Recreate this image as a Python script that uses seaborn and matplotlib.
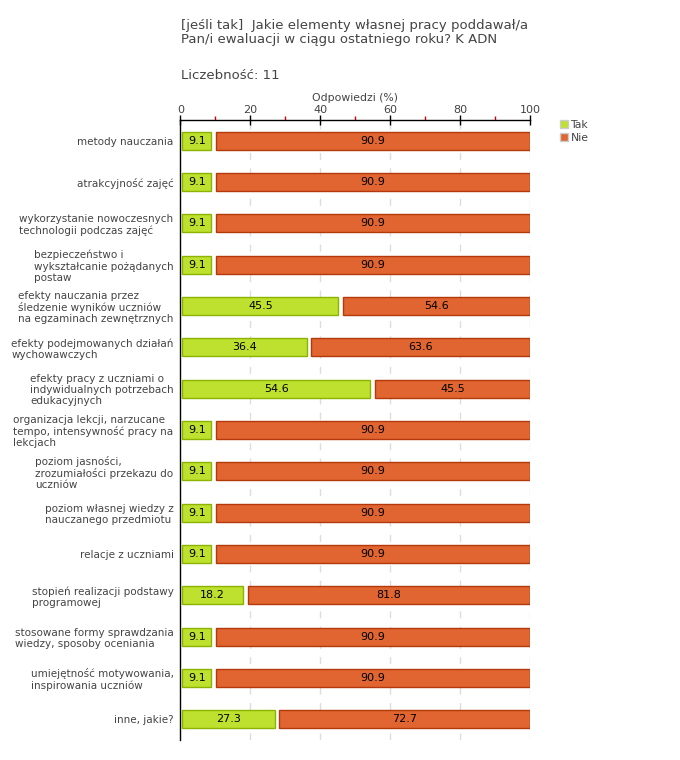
import matplotlib
matplotlib.use('Agg')
import matplotlib.pyplot as plt
from matplotlib.lines import Line2D
from matplotlib.ticker import MultipleLocator
import pandas as pd
import seaborn as sns

categories = [
    "metody nauczania",
    "atrakcyjność zajęć",
    "wykorzystanie nowoczesnych\ntechnologii podczas zajęć",
    "bezpieczeństwo i\nwykształcanie pożądanych\npostaw",
    "efekty nauczania przez\nśledzenie wyników uczniów\nna egzaminach zewnętrznych",
    "efekty podejmowanych działań\nwychowawczych",
    "efekty pracy z uczniami o\nindywidualnych potrzebach\nedukacyjnych",
    "organizacja lekcji, narzucane\ntempo, intensywność pracy na\nlekcjach",
    "poziom jasności,\nzrozumiałości przekazu do\nuczniów",
    "poziom własnej wiedzy z\nnauczanego przedmiotu",
    "relacje z uczniami",
    "stopień realizacji podstawy\nprogramowej",
    "stosowane formy sprawdzania\nwiedzy, sposoby oceniania",
    "umiejętność motywowania,\ninspirowania uczniów",
    "inne, jakie?",
]
tak = [9.1, 9.1, 9.1, 9.1, 45.5, 36.4, 54.6, 9.1, 9.1, 9.1, 9.1, 18.2, 9.1, 9.1, 27.3]
nie = [90.9, 90.9, 90.9, 90.9, 54.6, 63.6, 45.5, 90.9, 90.9, 90.9, 90.9, 81.8, 90.9, 90.9, 72.7]
series_names = ["Tak", "Nie"]

title = "[jeśli tak]  Jakie elementy własnej pracy poddawał/a\nPan/i ewaluacji w ciągu ostatniego roku? K ADN"
count_text = "Liczebność: 11"

green, green_edge = "#bee02e", "#8bb300"
orange, orange_edge = "#e06530", "#b3390c"
txt = "#444444"

sns.set_style("white")
plt.rcParams['font.family'] = ['DejaVu Sans']

df = pd.DataFrame({"cat": categories, "tak": tak, "nie": nie})

fig = plt.figure(figsize=(6.8, 7.6), dpi=100)
ax = fig.add_axes([0.2654, 0.0263, 0.514, 0.8158])

sns.barplot(data=df, x="tak", y="cat", orient="h", color=green, width=0.44,
            saturation=1, edgecolor=green_edge, linewidth=1, ax=ax)
sns.barplot(data=df, x="nie", y="cat", orient="h", color=orange, width=0.44,
            saturation=1, edgecolor=orange_edge, linewidth=1, ax=ax)

# stack "Nie" after "Tak" with a small gap
for p, t in zip(ax.containers[1], tak):
    p.set_x(t + 1.0)
    p.set_width(p.get_width() - 1.0)
for p in ax.containers[0]:
    p.set_x(0.5)
    p.set_width(p.get_width() - 0.8)

for c, vals in zip(ax.containers, [tak, nie]):
    ax.bar_label(c, labels=[f"{v:.1f}" for v in vals], label_type="center",
                 fontsize=8, color="black")

ax.set_xlim(0, 100)
ax.set_ylim(14.5, -0.5)
ax.xaxis.tick_top()
ax.xaxis.set_label_position("top")
ax.xaxis.set_major_locator(MultipleLocator(20))
ax.xaxis.set_minor_locator(MultipleLocator(10))
ax.tick_params(axis="x", which="major", direction="inout", length=7, width=1,
               color="black", labelsize=8, labelcolor=txt, pad=0)
ax.tick_params(axis="x", which="minor", direction="out", length=3, width=1, color="#dd0000")
ax.tick_params(axis="y", which="major", direction="out", length=3, width=1,
               color="black", labelsize=7.5, labelcolor=txt, pad=2)
for lbl in ax.get_yticklabels():
    lbl.set_multialignment("left")
    lbl.set_linespacing(1.15)

ax.set_xlabel("Odpowiedzi (%)", fontsize=7.8, color=txt)
ax.xaxis.set_label_coords(0.5, 1.03)
ax.set_ylabel("")

for x in [20, 40, 60, 80, 100]:
    ax.axvline(x, color="#dddddd", linestyle=(0, (5, 6)), linewidth=1, zorder=0)

for side in ["right", "bottom"]:
    ax.spines[side].set_visible(False)
for side in ["top", "left"]:
    ax.spines[side].set_color("black")
    ax.spines[side].set_linewidth(1)

handles = [Line2D([], [], marker="s", linestyle="", markersize=5.5,
                  markerfacecolor=col, markeredgecolor="#cccccc")
           for col in [green, orange]]
fig.legend(handles, series_names, loc="upper left", bbox_to_anchor=(0.815, 0.848),
           frameon=False, fontsize=7.8, handletextpad=0.1, labelspacing=0.25,
           labelcolor=txt, handlelength=1.0, borderaxespad=0)

fig.text(0.266, 0.975, title, fontsize=9.5, color=txt, va="top", ha="left", linespacing=1.1)
fig.text(0.266, 0.901, count_text, fontsize=9.5, color=txt, va="center", ha="left")

fig.savefig("out.png", dpi=100)
